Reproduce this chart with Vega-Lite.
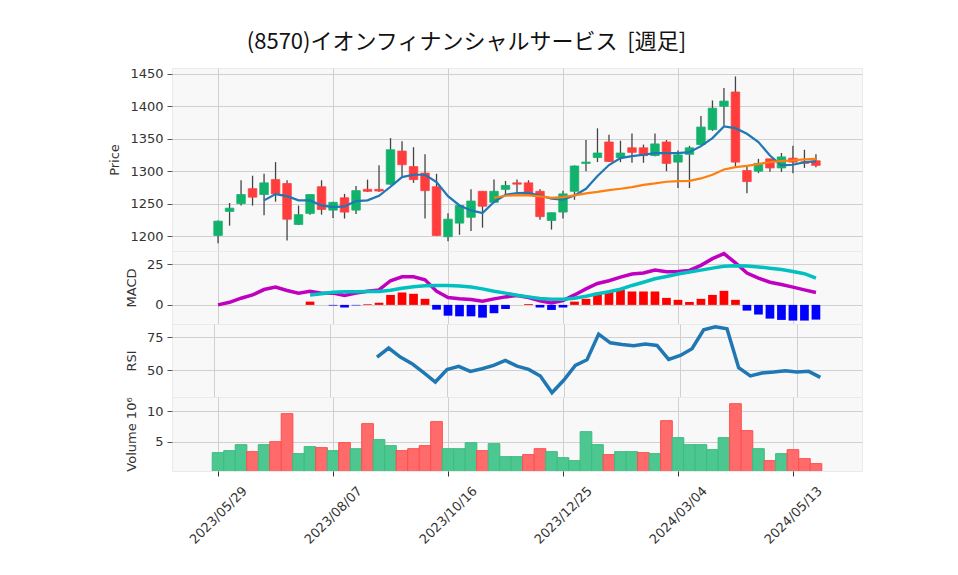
{
  "$schema": "https://vega.github.io/schema/vega-lite/v6.json",
  "padding": {"left": 108, "top": 31, "right": 5, "bottom": 5},
  "background": "#ffffff",
  "title": {"text": "(8570)イオンフィナンシャルサービス\u00a0\u00a0[週足]", "fontSize": 22, "font": "Noto Sans CJK JP", "fontWeight": "normal", "color": "#111111", "anchor": "middle", "dx": -19, "offset": 13},
  "config": {
    "font": "DejaVu Sans",
    "concat": {"spacing": 0},
    "view": {"fill": "#f8f8f8", "stroke": "#eaeaea"},
    "axis": {"gridColor": "#d0d0d0", "gridWidth": 1, "labelColor": "#333333", "labelFontSize": 13, "labelFont": "DejaVu Sans", "tickColor": "#555555", "tickSize": 5, "domain": false, "titleFontSize": 13, "titleFontWeight": "normal", "titleColor": "#333333", "titleFont": "DejaVu Sans", "labelPadding": 4, "titlePadding": 8, "labelOverlap": false}
  },
  "bounds": "flush",
  "datasets": {
    "d": [
      {"t":"2023-05-29","o":1201,"h":1224,"l":1189,"c":1223,"v":3.28,"ma5":null,"ma25":null,"macd":0,"sig":null,"hist":null,"rsi":null},
      {"t":"2023-06-05","o":1238,"h":1251,"l":1216,"c":1243,"v":3.6,"ma5":null,"ma25":null,"macd":1.6,"sig":null,"hist":null,"rsi":null},
      {"t":"2023-06-12","o":1250,"h":1286,"l":1247,"c":1264,"v":4.57,"ma5":null,"ma25":null,"macd":4.1,"sig":null,"hist":null,"rsi":null},
      {"t":"2023-06-19","o":1273,"h":1293,"l":1247,"c":1260,"v":3.44,"ma5":null,"ma25":null,"macd":6.1,"sig":null,"hist":null,"rsi":null},
      {"t":"2023-06-26","o":1264,"h":1296,"l":1232,"c":1282,"v":4.57,"ma5":1255,"ma25":null,"macd":9.4,"sig":null,"hist":null,"rsi":null},
      {"t":"2023-07-03","o":1287,"h":1314,"l":1253,"c":1265,"v":5.05,"ma5":1264.7,"ma25":null,"macd":10.9,"sig":null,"hist":null,"rsi":null},
      {"t":"2023-07-10","o":1281,"h":1286,"l":1193,"c":1226,"v":9.57,"ma5":1261.6,"ma25":null,"macd":8.8,"sig":null,"hist":null,"rsi":null},
      {"t":"2023-07-17","o":1218,"h":1247,"l":1217,"c":1233,"v":3.12,"ma5":1255,"ma25":null,"macd":7.2,"sig":null,"hist":null,"rsi":null},
      {"t":"2023-07-24","o":1235,"h":1264,"l":1233,"c":1264,"v":4.25,"ma5":1255,"ma25":null,"macd":8.4,"sig":6.1,"hist":2.0,"rsi":null},
      {"t":"2023-07-31","o":1276,"h":1286,"l":1233,"c":1241,"v":4.09,"ma5":1247.2,"ma25":null,"macd":7.2,"sig":6.8,"hist":0,"rsi":null},
      {"t":"2023-08-07","o":1240,"h":1253,"l":1228,"c":1252,"v":3.6,"ma5":1244.6,"ma25":null,"macd":7.2,"sig":7.8,"hist":-0.4,"rsi":null},
      {"t":"2023-08-14","o":1259,"h":1265,"l":1227,"c":1237,"v":4.9,"ma5":1245.7,"ma25":null,"macd":5.7,"sig":8.0,"hist":-1.6,"rsi":null},
      {"t":"2023-08-21","o":1240,"h":1277,"l":1234,"c":1270,"v":3.92,"ma5":1253.9,"ma25":null,"macd":7.2,"sig":8.0,"hist":-0.3,"rsi":null},
      {"t":"2023-08-28","o":1272,"h":1287,"l":1268,"c":1269,"v":7.96,"ma5":1255,"ma25":null,"macd":8.4,"sig":8.2,"hist":0.4,"rsi":null},
      {"t":"2023-09-04","o":1272,"h":1309,"l":1268,"c":1269.5,"v":5.38,"ma5":1262,"ma25":null,"macd":9.2,"sig":8.2,"hist":1.3,"rsi":59.8},
      {"t":"2023-09-11","o":1280,"h":1351,"l":1279,"c":1333,"v":4.41,"ma5":1276,"ma25":null,"macd":14.8,"sig":9.0,"hist":6.1,"rsi":66.7},
      {"t":"2023-09-18","o":1331,"h":1346,"l":1292,"c":1310,"v":3.6,"ma5":1290.9,"ma25":null,"macd":17.2,"sig":10.2,"hist":7.6,"rsi":59.8},
      {"t":"2023-09-25","o":1307,"h":1337,"l":1282,"c":1287,"v":3.92,"ma5":1294.5,"ma25":null,"macd":17.2,"sig":11.1,"hist":6.8,"rsi":54.8},
      {"t":"2023-10-02","o":1297,"h":1326,"l":1227,"c":1270,"v":4.41,"ma5":1294.5,"ma25":null,"macd":15.4,"sig":11.7,"hist":3.7,"rsi":48},
      {"t":"2023-10-09","o":1276,"h":1296,"l":1200,"c":1201,"v":8.28,"ma5":1283.2,"ma25":null,"macd":8.4,"sig":11.9,"hist":-2.9,"rsi":40.9},
      {"t":"2023-10-16","o":1199,"h":1235,"l":1192,"c":1226,"v":3.92,"ma5":1261.6,"ma25":null,"macd":4.5,"sig":11.9,"hist":-6.6,"rsi":50.3},
      {"t":"2023-10-23","o":1220,"h":1247,"l":1202,"c":1247,"v":3.92,"ma5":1247.2,"ma25":null,"macd":3.7,"sig":11.5,"hist":-7.0,"rsi":52.8},
      {"t":"2023-10-30","o":1229,"h":1272,"l":1208,"c":1254,"v":4.89,"ma5":1239.5,"ma25":null,"macd":3.3,"sig":10.9,"hist":-7.0,"rsi":49},
      {"t":"2023-11-06","o":1269,"h":1269,"l":1213,"c":1246,"v":3.6,"ma5":1235.4,"ma25":null,"macd":2.3,"sig":9.8,"hist":-7.8,"rsi":51},
      {"t":"2023-11-13","o":1252,"h":1287,"l":1251,"c":1269,"v":4.73,"ma5":1252.4,"ma25":1259,"macd":3.7,"sig":8.4,"hist":-5.1,"rsi":53.5},
      {"t":"2023-11-20","o":1272,"h":1285,"l":1263,"c":1278,"v":2.63,"ma5":1263.7,"ma25":1262.1,"macd":4.9,"sig":7.2,"hist":-2.5,"rsi":57.3},
      {"t":"2023-11-27","o":1282,"h":1287,"l":1268,"c":1280,"v":2.63,"ma5":1266.2,"ma25":1263.2,"macd":5.7,"sig":5.9,"hist":0,"rsi":53},
      {"t":"2023-12-04","o":1282,"h":1286,"l":1262,"c":1263,"v":2.96,"ma5":1266.7,"ma25":1262.6,"macd":4.5,"sig":4.9,"hist":0.5,"rsi":50.5},
      {"t":"2023-12-11","o":1269,"h":1272,"l":1225,"c":1230,"v":3.92,"ma5":1262.6,"ma25":1261.1,"macd":2.5,"sig":3.9,"hist":-1.6,"rsi":45.5},
      {"t":"2023-12-18","o":1224,"h":1236,"l":1210,"c":1236,"v":3.44,"ma5":1257.5,"ma25":1259,"macd":1.2,"sig":3.5,"hist":-3.1,"rsi":32.8},
      {"t":"2023-12-25","o":1237,"h":1270,"l":1227,"c":1265,"v":2.47,"ma5":1256,"ma25":1260,"macd":2.7,"sig":3.5,"hist":-1.6,"rsi":42.2},
      {"t":"2024-01-01","o":1269,"h":1309,"l":1256,"c":1308,"v":1.99,"ma5":1262.6,"ma25":1262.6,"macd":6.1,"sig":4.1,"hist":2.0,"rsi":53.5},
      {"t":"2024-01-08","o":1312,"h":1348,"l":1300,"c":1314,"v":6.67,"ma5":1272.9,"ma25":1265.7,"macd":9.8,"sig":5.3,"hist":3.7,"rsi":57.8},
      {"t":"2024-01-15","o":1321,"h":1366,"l":1314,"c":1328,"v":4.57,"ma5":1292.5,"ma25":1268,"macd":13.1,"sig":6.8,"hist":7.4,"rsi":77.3},
      {"t":"2024-01-22","o":1345,"h":1356,"l":1314,"c":1315,"v":2.96,"ma5":1309.5,"ma25":1270.8,"macd":14.8,"sig":8.0,"hist":8.0,"rsi":70.7},
      {"t":"2024-01-29","o":1321,"h":1347,"l":1314,"c":1328,"v":3.44,"ma5":1320.1,"ma25":1272.9,"macd":17.0,"sig":9.6,"hist":9.2,"rsi":69.4},
      {"t":"2024-02-05","o":1336,"h":1358,"l":1313,"c":1329,"v":3.44,"ma5":1323.2,"ma25":1275.5,"macd":18.9,"sig":11.9,"hist":8.2,"rsi":68.4},
      {"t":"2024-02-12","o":1336,"h":1341,"l":1313,"c":1324,"v":3.28,"ma5":1325.3,"ma25":1279,"macd":19.5,"sig":13.9,"hist":8.2,"rsi":69.7},
      {"t":"2024-02-19","o":1324,"h":1358,"l":1323,"c":1342,"v":3.12,"ma5":1327.8,"ma25":1281.1,"macd":21.3,"sig":16.0,"hist":8.2,"rsi":68.7},
      {"t":"2024-02-26","o":1345,"h":1348,"l":1300,"c":1312,"v":8.44,"ma5":1327.8,"ma25":1283.7,"macd":20.3,"sig":17.4,"hist":4.3,"rsi":58.1},
      {"t":"2024-03-04","o":1314,"h":1332,"l":1274,"c":1325,"v":5.7,"ma5":1327.8,"ma25":1284.7,"macd":20.5,"sig":18.9,"hist":3.1,"rsi":61.1},
      {"t":"2024-03-11","o":1326,"h":1339,"l":1274,"c":1336,"v":4.57,"ma5":1329.4,"ma25":1285.2,"macd":21.1,"sig":20.1,"hist":1.8,"rsi":66.2},
      {"t":"2024-03-18","o":1341,"h":1385,"l":1340,"c":1368,"v":4.57,"ma5":1338.6,"ma25":1288.8,"macd":24.2,"sig":21.3,"hist":3.7,"rsi":80.6},
      {"t":"2024-03-25","o":1364,"h":1409,"l":1362,"c":1397,"v":3.76,"ma5":1351,"ma25":1294.5,"macd":28.3,"sig":22.5,"hist":6.1,"rsi":82.8},
      {"t":"2024-04-01","o":1400,"h":1428,"l":1370,"c":1408,"v":5.7,"ma5":1368.9,"ma25":1302.7,"macd":31.4,"sig":23.6,"hist":8.6,"rsi":81.3},
      {"t":"2024-04-08","o":1422,"h":1446,"l":1306,"c":1314,"v":11.18,"ma5":1366.3,"ma25":1306.3,"macd":25.8,"sig":24.0,"hist":3.1,"rsi":51.8},
      {"t":"2024-04-15","o":1301,"h":1309,"l":1266,"c":1284,"v":6.83,"ma5":1357.6,"ma25":1308.3,"macd":19.5,"sig":23.8,"hist":-3.5,"rsi":45.5},
      {"t":"2024-04-22","o":1300,"h":1319,"l":1297,"c":1312,"v":3.92,"ma5":1344.8,"ma25":1310.9,"macd":16.4,"sig":23.2,"hist":-5.9,"rsi":47.7},
      {"t":"2024-04-29","o":1319,"h":1319,"l":1299,"c":1305,"v":1.99,"ma5":1324.2,"ma25":1314,"macd":13.9,"sig":22.5,"hist":-8.4,"rsi":48.5},
      {"t":"2024-05-06","o":1305,"h":1328,"l":1299,"c":1322,"v":3.12,"ma5":1308.8,"ma25":1315.5,"macd":12.5,"sig":21.7,"hist":-9.2,"rsi":49.5},
      {"t":"2024-05-13","o":1320,"h":1339,"l":1297,"c":1314,"v":3.76,"ma5":1309.9,"ma25":1316.6,"macd":10.9,"sig":20.5,"hist":-9.6,"rsi":48.5},
      {"t":"2024-05-20","o":1314,"h":1333,"l":1305,"c":1312,"v":2.31,"ma5":1314,"ma25":1318.1,"macd":9.2,"sig":19.1,"hist":-9.6,"rsi":49},
      {"t":"2024-05-27","o":1316,"h":1326,"l":1306,"c":1309,"v":1.51,"ma5":1315,"ma25":1319.1,"macd":7.6,"sig":16.4,"hist":-9.0,"rsi":44.4}
    ]
  },
  "vconcat": [
    {
      "width": 690, "height": 183,
      "data": {"name": "d"},
      "encoding": {
        "x": {"field": "t", "type": "temporal",
          "scale": {"type": "utc", "domain": [{"year":2023,"month":5,"date":4,"utc":true},{"year":2024,"month":6,"date":21,"utc":true}]},
          "axis": {"title": null, "labels": false, "ticks": false, "values": [{"year":2023,"month":5,"date":29,"utc":true},{"year":2023,"month":8,"date":7,"utc":true},{"year":2023,"month":10,"date":16,"utc":true},{"year":2023,"month":12,"date":25,"utc":true},{"year":2024,"month":3,"date":4,"utc":true},{"year":2024,"month":5,"date":13,"utc":true}]}}
      },
      "layer": [
        {"mark": {"type": "rule", "color": "#444444", "strokeWidth": 1.3},
         "encoding": {"y": {"field": "l", "type": "quantitative", "scale": {"domain": [1177, 1459], "zero": false, "nice": false}, "axis": {"title": "Price", "format": "d", "values": [1200,1250,1300,1350,1400,1450]}}, "y2": {"field": "h"}}},
        {"mark": {"type": "bar", "width": 8.5, "strokeWidth": 0.8},
         "encoding": {"y": {"field": "o", "type": "quantitative", "axis": {"title": "Price", "format": "d", "values": [1200,1250,1300,1350,1400,1450]}}, "y2": {"field": "c"},
           "color": {"condition": {"test": "datum.c >= datum.o", "value": "#11b36c"}, "value": "#ff3d3d"},
           "stroke": {"condition": {"test": "datum.c >= datum.o", "value": "#11b36c"}, "value": "#ff3d3d"}}},
        {"mark": {"type": "line", "color": "#1f77b4", "strokeWidth": 2.2}, "encoding": {"y": {"field": "ma5", "type": "quantitative", "axis": {"title": "Price", "format": "d", "values": [1200,1250,1300,1350,1400,1450]}}}},
        {"mark": {"type": "line", "color": "#ff7f0e", "strokeWidth": 2.2}, "encoding": {"y": {"field": "ma25", "type": "quantitative", "axis": {"title": "Price", "format": "d", "values": [1200,1250,1300,1350,1400,1450]}}}}
      ]
    },
    {
      "width": 690, "height": 73,
      "data": {"name": "d"},
      "encoding": {
        "x": {"field": "t", "type": "temporal",
          "scale": {"type": "utc", "domain": [{"year":2023,"month":5,"date":4,"utc":true},{"year":2024,"month":6,"date":21,"utc":true}]},
          "axis": {"title": null, "labels": false, "ticks": false, "values": [{"year":2023,"month":5,"date":29,"utc":true},{"year":2023,"month":8,"date":7,"utc":true},{"year":2023,"month":10,"date":16,"utc":true},{"year":2023,"month":12,"date":25,"utc":true},{"year":2024,"month":3,"date":4,"utc":true},{"year":2024,"month":5,"date":13,"utc":true}]}}
      },
      "layer": [
        {"transform": [{"filter": "datum.hist != null"}],
         "mark": {"type": "bar", "width": 8.7},
         "encoding": {"y": {"field": "hist", "type": "quantitative", "scale": {"domain": [-11.7, 33], "nice": false}, "axis": {"title": "MACD", "values": [0, 25]}}, "y2": {"datum": 0},
           "color": {"condition": {"test": "datum.hist >= 0", "value": "#ff0000"}, "value": "#0000ff"}}},
        {"mark": {"type": "line", "color": "#c000c0", "strokeWidth": 3.5}, "encoding": {"y": {"field": "macd", "type": "quantitative", "axis": {"title": "MACD", "values": [0, 25]}}}},
        {"mark": {"type": "line", "color": "#00c0c0", "strokeWidth": 3.5}, "encoding": {"y": {"field": "sig", "type": "quantitative", "axis": {"title": "MACD", "values": [0, 25]}}}}
      ]
    },
    {
      "width": 690, "height": 73,
      "data": {"name": "d"},
      "encoding": {
        "x": {"field": "t", "type": "temporal",
          "scale": {"type": "utc", "domain": [{"year":2023,"month":5,"date":4,"utc":true},{"year":2024,"month":6,"date":21,"utc":true}]},
          "axis": {"title": null, "labels": false, "ticks": false, "values": [{"year":2023,"month":5,"date":29,"utc":true},{"year":2023,"month":8,"date":7,"utc":true},{"year":2023,"month":10,"date":16,"utc":true},{"year":2023,"month":12,"date":25,"utc":true},{"year":2024,"month":3,"date":4,"utc":true},{"year":2024,"month":5,"date":13,"utc":true}]}}
      },
      "layer": [
        {"mark": {"type": "line", "color": "#1f77b4", "strokeWidth": 3.5},
         "encoding": {"y": {"field": "rsi", "type": "quantitative", "scale": {"domain": [29.5, 85], "nice": false, "zero": false}, "axis": {"title": "RSI", "values": [50, 75]}}}}
      ]
    },
    {
      "width": 690, "height": 74,
      "data": {"name": "d"},
      "transform": [{"window": [{"op": "lag", "field": "c", "as": "pc"}], "sort": [{"field": "t"}]}],
      "encoding": {
        "x": {"field": "t", "type": "temporal",
          "scale": {"type": "utc", "domain": [{"year":2023,"month":5,"date":4,"utc":true},{"year":2024,"month":6,"date":21,"utc":true}]},
          "axis": {"title": null, "format": "%Y/%m/%d", "labelAngle": -45, "labelAlign": "center", "labelBaseline": "middle", "labelPadding": 39, "tickColor": "#333333", "labelFontSize": 13, "values": [{"year":2023,"month":5,"date":29,"utc":true},{"year":2023,"month":8,"date":7,"utc":true},{"year":2023,"month":10,"date":16,"utc":true},{"year":2023,"month":12,"date":25,"utc":true},{"year":2024,"month":3,"date":4,"utc":true},{"year":2024,"month":5,"date":13,"utc":true}]}}
      },
      "layer": [
        {"mark": {"type": "bar", "width": 11.66, "strokeWidth": 1, "clip": true},
         "encoding": {"y": {"field": "v", "type": "quantitative", "scale": {"domain": [0.32, 12.26], "nice": false, "zero": false}, "axis": {"title": "Volume  10⁶", "values": [5, 10]}}, "y2": {"datum": 0},
           "color": {"condition": {"test": "datum.pc == null || datum.c > datum.pc", "value": "#4cc790"}, "value": "#ff6b6b"},
           "stroke": {"condition": {"test": "datum.pc == null || datum.c > datum.pc", "value": "#3dbb80"}, "value": "#ff4d4d"}}}
      ]
    }
  ]
}
